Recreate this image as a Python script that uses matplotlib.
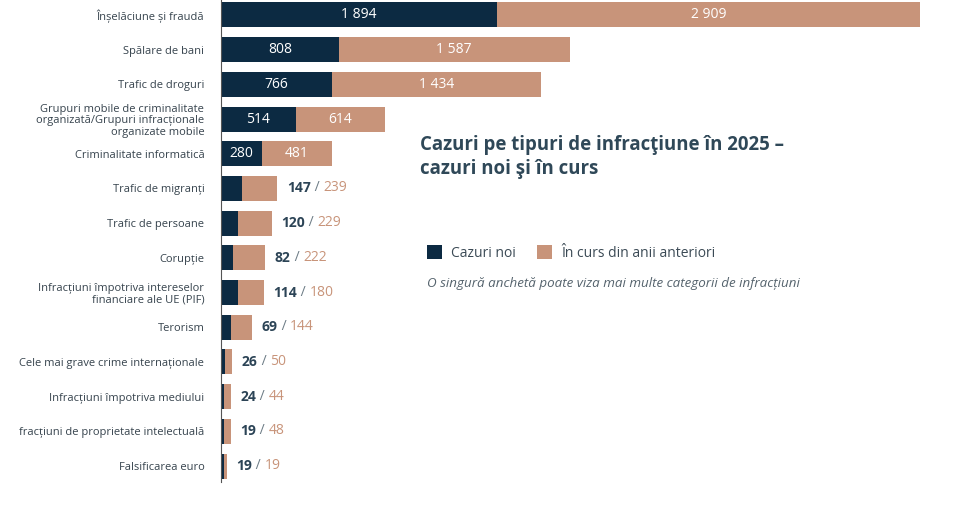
import matplotlib.pyplot as plt
import numpy as np

plt.rcParams['font.family'] = ['Open Sans', 'DejaVu Sans']

categories = [
    'Înșelăciune și fraudă',
    'Spălare de bani',
    'Trafic de droguri',
    'Grupuri mobile de criminalitate\norganizată/Grupuri infracționale\norganizate mobile',
    'Criminalitate informatică',
    'Trafic de migranți',
    'Trafic de persoane',
    'Corupție',
    'Infracțiuni împotriva intereselor\nfinanciare ale UE (PIF)',
    'Terorism',
    'Cele mai grave crime internaționale',
    'Infracțiuni împotriva mediului',
    'fracțiuni de proprietate intelectuală',
    'Falsificarea euro',
]
new_cases = np.array([1894, 808, 766, 514, 280, 147, 120, 82, 114, 69, 26, 24, 19, 19])
ongoing = np.array([2909, 1587, 1434, 614, 481, 239, 229, 222, 180, 144, 50, 44, 48, 19])

navy = '#0c2a42'
tan = '#c8947a'
label_col = '#36434d'
num_col = '#2c4456'

def fmt(v):
    return f'{v:,}'.replace(',', ' ')

fig = plt.figure(figsize=(9.67, 5.13), dpi=100)
ax = fig.add_axes([221 / 967, 31 / 513, (920 - 221) / 967, 482 / 513])

y = np.arange(len(categories))
totals = new_cases + ongoing
b1 = ax.barh(y, new_cases, height=0.72, color=navy, label='Cazuri noi')
b2 = ax.barh(y, ongoing, left=new_cases, height=0.72, color=tan, label='În curs din anii anteriori')

ax.set_xlim(0, totals.max())
ax.set_ylim(13.46, -0.43)
ax.set_yticks(y)
ax.set_yticklabels(categories, fontsize=8, color=label_col, linespacing=1.05)
ax.tick_params(axis='y', length=0, pad=12)
ax.set_xticks([])
for s in ['top', 'right', 'bottom']:
    ax.spines[s].set_visible(False)
ax.spines['left'].set_color('#555555')
ax.spines['left'].set_linewidth(0.8)

for i in range(len(categories)):
    n, o = new_cases[i], ongoing[i]
    if totals[i] > 700:
        ax.text(n / 2, i, fmt(n), color='white', fontsize=10,
                ha='center', va='center')
        ax.text(n + o / 2, i, fmt(o), color='white', fontsize=10,
                ha='center', va='center')
    else:
        t1 = ax.annotate(fmt(n), xy=(totals[i], i), xytext=(7, 0), textcoords='offset points',
                         color=num_col, fontsize=10, fontweight='bold', ha='left', va='center')
        t2 = ax.annotate(' / ', xy=(1, 0), xycoords=t1, color='#6d7c86', fontsize=10,
                         ha='left', va='bottom')
        ax.annotate(fmt(o), xy=(1, 0), xycoords=t2, color=tan, fontsize=10,
                    ha='left', va='bottom')

fig.text(420 / 967, 1 - 157 / 513, 'Cazuri pe tipuri de infracţiune în 2025 –\ncazuri noi şi în curs',
         fontsize=13.4, fontweight='bold', color='#2f4858', ha='left', va='center',
         linespacing=1.3)

fig.legend(handles=[b1, b2], loc='center left', bbox_to_anchor=(414 / 967, 1 - 253 / 513),
           ncol=2, frameon=False, fontsize=10, handlelength=1.15, handleheight=1.15,
           columnspacing=1.5, handletextpad=0.6, labelcolor='#3b4a55')

fig.text(427 / 967, 1 - 283 / 513, 'O singură anchetă poate viza mai multe categorii de infracțiuni',
         fontsize=9.6, style='italic', color='#55636d', ha='left', va='center')

plt.savefig('out.png', dpi=100)
